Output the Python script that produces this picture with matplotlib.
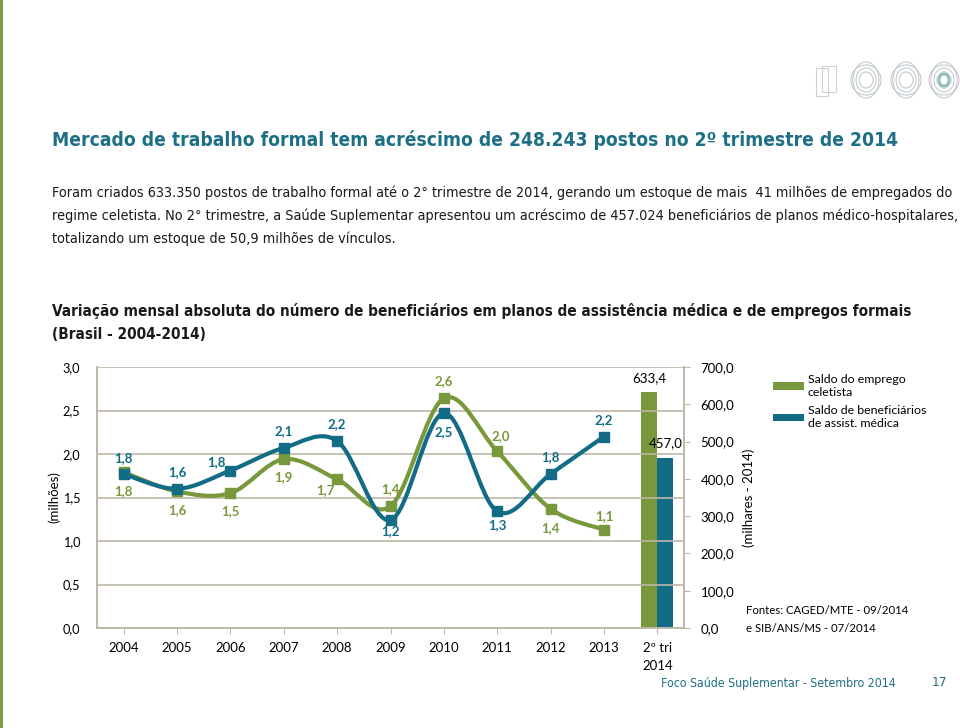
import matplotlib as mpl
mpl.use('Agg')
import matplotlib.pyplot as plt
from matplotlib.path import Path
from matplotlib.patches import PathPatch, Ellipse, Rectangle
from matplotlib.lines import Line2D

# dados
anos = ['2004', '2005', '2006', '2007', '2008', '2009', '2010', '2011', '2012', '2013', '2º tri\n2014']
emprego = [1.79, 1.57, 1.55, 1.94, 1.71, 1.40, 2.64, 2.03, 1.37, 1.13]
emprego_lbl = ['1,8', '1,6', '1,5', '1,9', '1,7', '1,4', '2,6', '2,0', '1,4', '1,1']
benef = [1.77, 1.60, 1.81, 2.07, 2.15, 1.24, 2.47, 1.34, 1.77, 2.20]
benef_lbl = ['1,8', '1,6', '1,8', '2,1', '2,2', '1,2', '2,5', '1,3', '1,8', '2,2']
tri_emprego = 633.4
tri_benef = 457.0
left_ticks = [0, 0.5, 1.0, 1.5, 2.0, 2.5, 3.0]
left_tick_lbl = ['0,0', '0,5', '1,0', '1,5', '2,0', '2,5', '3,0']
right_ticks = [0, 100, 200, 300, 400, 500, 600, 700]
right_tick_lbl = ['0,0', '100,0', '200,0', '300,0', '400,0', '500,0', '600,0', '700,0']

verde = '#77983B'
azul = '#126C86'
teal = '#1D6F86'
grade = '#BDB8A8'

narrow = ['DejaVu Sans']
calib = ['Lato', 'DejaVu Sans']

W, H = 960, 728
fig = plt.figure(figsize=(9.6, 7.28), dpi=100)
rend = fig.canvas.get_renderer()


def fx(px):
    return px / W


def fy(py):
    return 1 - py / H


def texto_ajustado(x, y, s, largura, size=12, **kw):
    # ajusta o tamanho da fonte para a largura (px) do original
    t = fig.text(fx(x), fy(y), s, fontsize=size, va='center', **kw)
    w = t.get_window_extent(rend).width
    t.set_fontsize(size * largura / w)
    return t


# barra verde a esquerda
fig.add_artist(Line2D([fx(1), fx(1)], [0, 1], color=verde, lw=2))

# logos (simplificados)
for cx in [866, 906, 944]:
    for w, h in [(26, 36), (30, 30), (20, 24), (14, 16)]:
        fig.add_artist(Ellipse((fx(cx), fy(80)), w / W, h / H, fill=False,
                               ec='#C3CBD0', lw=0.8))
fig.add_artist(Ellipse((fx(944), fy(80)), 10 / W, 12 / H, fill=False, ec='#8DC0B4', lw=2))
fig.add_artist(Rectangle((fx(816), fy(96)), 12 / W, 28 / H, fill=False, ec='#CDD2D4', lw=0.8))
fig.add_artist(Rectangle((fx(822), fy(92)), 14 / W, 26 / H, fill=False, ec='#CDD2D4', lw=0.8))

# textos
texto_ajustado(52, 140, 'Mercado de trabalho formal tem acréscimo de 248.243 postos no 2º trimestre de 2014',
               845, size=18, family=narrow, fontstretch='condensed', fontweight='bold', color=teal)
par = ['Foram criados 633.350 postos de trabalho formal até o 2° trimestre de 2014, gerando um estoque de mais  41 milhões de empregados do',
       'regime celetista. No 2° trimestre, a Saúde Suplementar apresentou um acréscimo de 457.024 beneficiários de planos médico-hospitalares,',
       'totalizando um estoque de 50,9 milhões de vínculos.']
t0 = texto_ajustado(52, 193, par[0], 905, family=narrow, fontstretch='condensed', color='#1a1a1a')
for i, s in enumerate(par[1:], start=1):
    fig.text(fx(52), fy(193 + 23 * i), s, family=narrow, fontstretch='condensed',
             fontsize=t0.get_fontsize(), color='#1a1a1a', va='center')
t1 = texto_ajustado(52, 311, 'Variação mensal absoluta do número de beneficiários em planos de assistência médica e de empregos formais',
                    859, family=narrow, fontstretch='condensed', fontweight='bold', color='#1a1a1a')
fig.text(fx(52), fy(335), '(Brasil - 2004-2014)', family=narrow, fontstretch='condensed',
         fontsize=t1.get_fontsize(), fontweight='bold', color='#1a1a1a', va='center')

# graficos
ax = fig.add_axes([fx(97), fy(628), (684 - 97) / W, (628 - 367) / H])
ax2 = ax.twinx()
ax.set_zorder(2)
ax.patch.set_visible(False)

n = len(anos)
ax.set_xlim(-0.5, n - 0.5)
ax.set_ylim(0, 3)
ax2.set_ylim(0, 700)
ax.set_yticks(left_ticks)
ax.set_yticklabels(left_tick_lbl, family=calib, fontsize=9.2)
ax2.set_yticks(right_ticks)
ax2.set_yticklabels(right_tick_lbl, family=calib, fontsize=9.5)
ax.set_xticks(range(n))
ax.set_xticklabels(anos, family=calib, fontsize=9.5, linespacing=1.6)
ax.grid(axis='y', color=grade, lw=1.2)
ax.tick_params(axis='y', length=0, pad=12)
ax.tick_params(axis='x', length=4, color=grade, pad=6)
ax2.tick_params(axis='y', length=4, color=grade, pad=8)
for a in (ax, ax2):
    a.spines['top'].set_visible(False)
    for s in ['left', 'right', 'bottom']:
        a.spines[s].set_color(grade)
        a.spines[s].set_linewidth(1.2)

ax.set_ylabel('(milhões)', family=calib, fontsize=9.5)
ax.yaxis.set_label_coords(-0.062, 0.5)
ax2.set_ylabel('(milhares - 2014)', family=calib, fontsize=9.5)
ax2.yaxis.set_label_coords(1.10, 0.5)

# barras 2014
b1 = ax2.bar(n - 1 - 0.15, tri_emprego, 0.3, color=verde)
b2 = ax2.bar(n - 1 + 0.15, tri_benef, 0.3, color=azul)
ax2.annotate('633,4', (n - 1 - 0.15, tri_emprego), xytext=(0, 14), textcoords='offset pixels',
             ha='center', va='center', family=calib, fontsize=9.5)
ax2.annotate('457,0', (n - 1 + 0.15, tri_benef), xytext=(0, 14), textcoords='offset pixels',
             ha='center', va='center', family=calib, fontsize=9.5)


def suave(ys):
    # curva suavizada tipo Excel (bezier cubica)
    pts = list(zip(range(len(ys)), ys))
    verts = [pts[0]]
    codes = [Path.MOVETO]
    for i in range(len(pts) - 1):
        p0 = pts[i - 1] if i > 0 else pts[i]
        p1 = pts[i]
        p2 = pts[i + 1]
        p3 = pts[i + 2] if i + 2 < len(pts) else pts[i + 1]
        c1 = (p1[0] + (p2[0] - p0[0]) / 6, p1[1] + (p2[1] - p0[1]) / 6)
        c2 = (p2[0] - (p3[0] - p1[0]) / 6, p2[1] - (p3[1] - p1[1]) / 6)
        verts += [c1, c2, p2]
        codes += [Path.CURVE4] * 3
    return Path(verts, codes)


xs = list(range(len(emprego)))
ax.add_patch(PathPatch(suave(emprego), fill=False, ec=verde, lw=3, zorder=3))
ax.plot(xs, emprego, 's', color=verde, ms=7, zorder=4)
ax.add_patch(PathPatch(suave(benef), fill=False, ec=azul, lw=3, zorder=5))
ax.plot(xs, benef, 's', color=azul, ms=7, zorder=6)

off_benef = [(0, 16), (0, 17), (-14, 8), (0, 17), (0, 17), (0, -11), (0, -19), (0, -14), (0, 17), (0, 17)]
off_emprego = [(0, -19), (0, -19), (0, -18), (0, -18), (-12, -11), (0, 17), (0, 17), (4, 15), (0, -19), (0, 14)]
for x, y, t, o in zip(xs, benef, benef_lbl, off_benef):
    ax.annotate(t, (x, y), xytext=o, textcoords='offset pixels', ha='center', va='center',
                color=azul, fontweight='bold', family=calib, fontsize=9.5, zorder=7)
for x, y, t, o in zip(xs, emprego, emprego_lbl, off_emprego):
    ax.annotate(t, (x, y), xytext=o, textcoords='offset pixels', ha='center', va='center',
                color=verde, fontweight='bold', family=calib, fontsize=9.5, zorder=7)

leg = fig.legend([b1, b2], ['Saldo do emprego\nceletista', 'Saldo de beneficiários\nde assist. médica'],
                 loc='upper left', bbox_to_anchor=(fx(762), fy(363)), frameon=False,
                 prop={'family': calib, 'size': 8.9}, handlelength=2.5, handleheight=0.55,
                 handletextpad=0.3, labelspacing=0.6)

texto_ajustado(746, 611, 'Fontes: CAGED/MTE - 09/2014', 163, size=9, family=calib)
fig.text(fx(746), fy(628), 'e SIB/ANS/MS - 07/2014', family=calib,
         fontsize=fig.texts[-1].get_fontsize(), va='center')

texto_ajustado(661, 683, 'Foco Saúde Suplementar - Setembro 2014', 234, family=narrow,
               fontstretch='condensed', color=teal)
fig.text(fx(932), fy(683), '17', family=narrow, fontstretch='condensed',
         fontsize=fig.texts[-1].get_fontsize() * 1.1, color=teal, va='center')

plt.savefig('out.png', dpi=100)
